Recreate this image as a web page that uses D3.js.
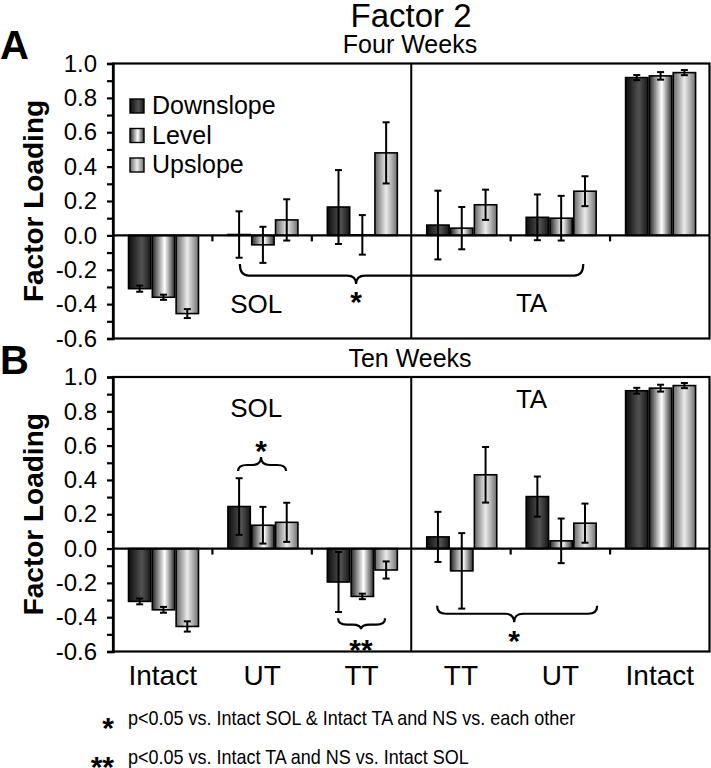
<!DOCTYPE html>
<html><head><meta charset="utf-8">
<script src="https://cdn.jsdelivr.net/npm/d3@7"></script>
<style>
body{margin:0;background:#fff}
text{font-family:"Liberation Sans",Arial,Helvetica,sans-serif;fill:#000}
</style>
</head><body>
<svg id="chart" width="711" height="768"></svg>
<script>
// ---------- data ----------
const groups = ["Intact","UT","TT","TT","UT","Intact"];
const series = ["Downslope","Level","Upslope"];
const yTickValues = [-0.6,-0.4,-0.2,0.0,0.2,0.4,0.6,0.8,1.0];
const yMinorTickValues = [-0.5,-0.3,-0.1,0.1,0.3,0.5,0.7,0.9];

// Four weeks (panel A): rows = groups, cols = series
const fourWeeksValues = [
  [-0.31, -0.36, -0.455],
  [0.005, -0.055, 0.09],
  [0.165, 0.003, 0.48],
  [0.06, 0.042, 0.178],
  [0.105, 0.10, 0.257],
  [0.918, 0.928, 0.947]
];
const fourWeeksErrors = [
  [0.018, 0.015, 0.026],
  [0.135, 0.105, 0.12],
  [0.215, 0.115, 0.178],
  [0.2, 0.123, 0.088],
  [0.133, 0.13, 0.087],
  [0.015, 0.022, 0.015]
];
// Ten weeks (panel B)
const tenWeeksValues = [
  [-0.308, -0.357, -0.454],
  [0.245, 0.136, 0.153],
  [-0.195, -0.279, -0.125],
  [0.068, -0.13, 0.43],
  [0.303, 0.045, 0.148],
  [0.92, 0.935, 0.95]
];
const tenWeeksErrors = [
  [0.017, 0.017, 0.03],
  [0.165, 0.107, 0.114],
  [0.175, 0.016, 0.05],
  [0.146, 0.22, 0.162],
  [0.117, 0.13, 0.114],
  [0.017, 0.02, 0.015]
];
// region labels: [text, group position, value of baseline]
const fourWeeksRegions = [["SOL",1.44,-0.452],["TA",4.21,-0.446]];
const tenWeeksRegions = [["SOL",1.44,0.768],["TA",4.21,0.82]];
// braces: start pos, end pos, tip pos, end value, line value, tip value, mark, mark value
const fourWeeksBraces = [
  {g1:1.276,g2:4.73,gt:2.445,vEnd:-0.167,vLine:-0.234,vTip:-0.283,mark:"*",vMark:-0.365}
];
const tenWeeksBraces = [
  {g1:1.258,g2:1.741,gt:1.489,vEnd:0.452,vLine:0.487,vTip:0.534,mark:"*",vMark:0.592},
  {g1:2.264,g2:2.737,gt:2.495,vEnd:-0.406,vLine:-0.443,vTip:-0.47,mark:"**",vMark:-0.567},
  {g1:3.26,g2:4.87,gt:4.035,vEnd:-0.333,vLine:-0.38,vTip:-0.43,mark:"*",vMark:-0.518}
];
const footnotes = [
  ["*","p<0.05 vs. Intact SOL & Intact TA and NS vs. each other"],
  ["**","p<0.05 vs. Intact TA and NS vs. Intact SOL"]
];

// ---------- layout ----------
const svg = d3.select("#chart");
const plotLeft = 113, plotRight = 709.5;
const x = d3.scaleBand().domain(d3.range(groups.length)).range([plotLeft, plotRight]).padding(0);
const xPos = d3.scaleLinear().domain([0, groups.length]).range([plotLeft, plotRight]);
const xInner = d3.scaleBand().domain(series).range([15.5, 85.5]).paddingInner(0.06);

// gradients
const defs = svg.append("defs");
const gradStops = {
  Downslope: [[0,"#0c0c0c"],[0.6,"#525252"],[1,"#161616"]],
  Level: [[0,"#262626"],[0.55,"#ffffff"],[1,"#303030"]],
  Upslope: [[0,"#666"],[0.5,"#ebebeb"],[1,"#707070"]]
};
series.forEach(s => {
  const g = defs.append("linearGradient").attr("id","grad-"+s)
    .attr("x1","0").attr("x2","1").attr("y1","0").attr("y2","0");
  gradStops[s].forEach(([o,c]) => g.append("stop").attr("offset",o).attr("stop-color",c));
});

const fmt = d => d3.format(".1f")(d).replace("\u2212","-");

function drawPanel(cfg){
  const y = d3.scaleLinear().domain([-0.6, 1.0]).range([cfg.bottom, cfg.top]);
  const g = svg.append("g");

  // bars
  cfg.values.forEach((row, gi) => {
    row.forEach((v, si) => {
      const s = series[si];
      const bx = x(gi) + xInner(s);
      g.append("rect")
        .attr("x", bx).attr("width", xInner.bandwidth())
        .attr("y", y(Math.max(0, v))).attr("height", Math.abs(y(v) - y(0)))
        .attr("fill", `url(#grad-${s})`).attr("stroke","#000").attr("stroke-width",1.6);
    });
  });
  // error bars
  cfg.values.forEach((row, gi) => {
    row.forEach((v, si) => {
      const e = cfg.errors[gi][si];
      const cx = x(gi) + xInner(series[si]) + xInner.bandwidth()/2;
      const eg = g.append("g").attr("stroke","#000").attr("stroke-width",2);
      eg.append("line").attr("x1",cx).attr("x2",cx).attr("y1",y(v+e)).attr("y2",y(v-e));
      [v+e, v-e].forEach(t => eg.append("line").attr("x1",cx-3.5).attr("x2",cx+3.5).attr("y1",y(t)).attr("y2",y(t)));
    });
  });

  // zero line and group ticks
  g.append("line").attr("x1",plotLeft).attr("x2",plotRight).attr("y1",y(0)).attr("y2",y(0))
    .attr("stroke","#000").attr("stroke-width",2.2);
  [1,2,4,5].forEach(i => g.append("line").attr("x1",x(i)).attr("x2",x(i))
    .attr("y1",y(0)).attr("y2",y(0)+6).attr("stroke","#000").attr("stroke-width",2.2));
  // divider
  g.append("line").attr("x1",x(3)).attr("x2",x(3)).attr("y1",cfg.top).attr("y2",cfg.bottom)
    .attr("stroke","#000").attr("stroke-width",2);
  // frame
  g.append("rect").attr("x",plotLeft).attr("y",cfg.top).attr("width",plotRight-plotLeft)
    .attr("height",cfg.bottom-cfg.top).attr("fill","none").attr("stroke","#000").attr("stroke-width",2.2);

  // y axis
  const ax = g.append("g").attr("transform",`translate(${plotLeft},0)`)
    .call(d3.axisLeft(y).tickValues(yTickValues).tickSize(6).tickPadding(10).tickFormat(fmt));
  ax.select(".domain").attr("stroke-width",2.4);
  ax.selectAll(".tick line").attr("stroke-width",2.2);
  ax.selectAll(".tick text").style("font-size","24px").style("font-family",'"Liberation Sans",Arial,sans-serif').attr("fill","#000");
  const axm = g.append("g").attr("transform",`translate(${plotLeft},0)`)
    .call(d3.axisLeft(y).tickValues(yMinorTickValues).tickSize(6).tickFormat(""));
  axm.select(".domain").remove();
  axm.selectAll(".tick line").attr("stroke-width",2.2);

  // y label
  g.append("text").attr("transform",`translate(43,${(cfg.top+cfg.bottom)/2}) rotate(-90)`)
    .attr("text-anchor","middle").style("font-size","28px").style("font-weight","bold").text("Factor Loading");

  // panel letter & subtitle
  g.append("text").attr("x",0).attr("y",cfg.letterY).style("font-size","40px").style("font-weight","bold").text(cfg.letter);
  g.append("text").attr("x",410).attr("y",cfg.subtitleY).attr("text-anchor","middle").style("font-size","25px").text(cfg.subtitle);

  // region labels
  cfg.regions.forEach(([t, gp, v]) => g.append("text").attr("x",xPos(gp)).attr("y",y(v))
    .attr("text-anchor","middle").style("font-size","26px").text(t));

  // braces
  cfg.braces.forEach(b => {
    const xa = xPos(b.g1), xb = xPos(b.g2), xt = xPos(b.gt);
    const ye = y(b.vEnd), yl = y(b.vLine), yt = y(b.vTip);
    const r = 9;
    const p = d3.path();
    p.moveTo(xa, ye);
    p.quadraticCurveTo(xa, yl, xa + r, yl);
    p.lineTo(xt - r, yl);
    p.quadraticCurveTo(xt, yl, xt, yt);
    p.quadraticCurveTo(xt, yl, xt + r, yl);
    p.lineTo(xb - r, yl);
    p.quadraticCurveTo(xb, yl, xb, ye);
    g.append("path").attr("d", p.toString()).attr("fill","none").attr("stroke","#000").attr("stroke-width",2.2);
    g.append("text").attr("x",xt).attr("y",y(b.vMark)+14).attr("text-anchor","middle")
      .style("font-size","30px").style("font-weight","bold").text(b.mark);
  });

  // legend
  if (cfg.legend) {
    const lg = g.append("g").attr("transform","translate(130,99)");
    series.forEach((s, i) => {
      const row = lg.append("g").attr("transform",`translate(0,${i*29.5})`);
      row.append("rect").attr("width",14).attr("height",14)
        .attr("fill",`url(#grad-${s})`).attr("stroke","#000").attr("stroke-width",1.4);
      row.append("text").attr("x",22).attr("y",15).style("font-size","25px").text(s);
    });
  }
}

drawPanel({top:63.5, bottom:338.5, values:fourWeeksValues, errors:fourWeeksErrors, legend:true,
  letter:"A", letterY:59, subtitle:"Four Weeks", subtitleY:53, regions:fourWeeksRegions, braces:fourWeeksBraces});
drawPanel({top:377, bottom:651.5, values:tenWeeksValues, errors:tenWeeksErrors, legend:false,
  letter:"B", letterY:374, subtitle:"Ten Weeks", subtitleY:367, regions:tenWeeksRegions, braces:tenWeeksBraces});

// title
svg.append("text").attr("x",411).attr("y",27).attr("text-anchor","middle").style("font-size","33px").text("Factor 2");

// x labels
svg.append("g").selectAll("text").data(groups).join("text")
  .attr("x",(d,i)=>x(i)+x.bandwidth()/2).attr("y",685).attr("text-anchor","middle")
  .style("font-size","28px").text(d=>d);

// footnotes
const fnY = [725, 764];
footnotes.forEach(([m, t], i) => {
  svg.append("text").attr("x",114).attr("y",fnY[i]+13).attr("text-anchor","end")
    .style("font-size","30px").style("font-weight","bold").text(m);
  svg.append("text").attr("transform",`translate(128,${fnY[i]}) scale(0.9,1)`)
    .style("font-size","20px").text(t);
});
</script>
</body></html>
